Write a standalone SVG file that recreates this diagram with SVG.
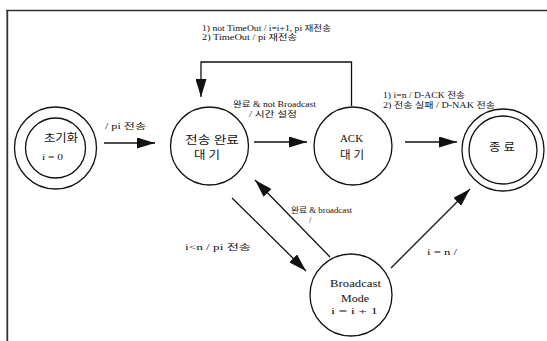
<svg xmlns="http://www.w3.org/2000/svg" width="547" height="341" viewBox="0 0 547 341">
<style>
.n{fill:none;stroke:#111;stroke-width:1.3}
.c{fill:none;stroke:#111;stroke-width:1.3}
.t{font-family:"Liberation Serif","Noto Sans CJK KR",serif;font-size:11px;fill:#111}
.l{font-family:"Liberation Serif","Noto Sans CJK KR",serif;font-size:8.5px;fill:#111}
</style>
<defs>
<marker id="ah" markerUnits="userSpaceOnUse" markerWidth="18" markerHeight="11" refX="18" refY="5.5" orient="auto">
<path d="M0,0 L18,5.5 L0,11 z" fill="#111"/>
</marker>
</defs>
<rect width="547" height="341" fill="#fff"/>
<g id="frame">
<line x1="6" y1="10.5" x2="547" y2="10.5" stroke="#333" stroke-width="1.6"/>
<line x1="7.3" y1="10" x2="7.3" y2="341" stroke="#333" stroke-width="1.8"/>
</g>
<g id="connectors">
<line class="c" x1="104" y1="143" x2="155" y2="143" marker-end="url(#ah)"/>
<line class="c" x1="254" y1="142" x2="307" y2="142" marker-end="url(#ah)"/>
<line class="c" x1="405" y1="142" x2="457" y2="142" marker-end="url(#ah)"/>
<polyline class="c" points="351.5,106 351.5,62 201,62 201,97" marker-end="url(#ah)"/>
<line class="c" x1="232" y1="198" x2="306" y2="271" marker-end="url(#ah)"/>
<line class="c" x1="330" y1="257" x2="255" y2="180" marker-end="url(#ah)"/>
<line class="c" x1="391" y1="268" x2="470" y2="189" marker-end="url(#ah)"/>
<text class="l" x="202" y="30.5" textLength="129" lengthAdjust="spacingAndGlyphs">1) not TimeOut / i=i+1, pi 재전송</text>
<text class="l" x="202" y="39.5" textLength="95" lengthAdjust="spacingAndGlyphs">2) TimeOut / pi 재전송</text>
<text class="l" x="105" y="129" textLength="41" lengthAdjust="spacingAndGlyphs">/ pi 전송</text>
<text class="l" x="233" y="106.5" textLength="83" lengthAdjust="spacingAndGlyphs">완료 &amp; not Broadcast</text>
<text class="l" x="249" y="117" textLength="48" lengthAdjust="spacingAndGlyphs">/ 시간 설정</text>
<text class="l" x="383" y="98" textLength="82" lengthAdjust="spacingAndGlyphs">1) i=n / D-ACK 전송</text>
<text class="l" x="383" y="108" textLength="112" lengthAdjust="spacingAndGlyphs">2) 전송 실패 / D-NAK 전송</text>
<text class="l" x="291" y="213" textLength="61" lengthAdjust="spacingAndGlyphs">완료 &amp; broadcast</text>
<text class="l" x="309" y="223">/</text>
<text class="l" x="185" y="250" textLength="66" lengthAdjust="spacingAndGlyphs">i&lt;n / pi 전송</text>
<text class="l" x="427" y="255" textLength="30" lengthAdjust="spacingAndGlyphs">i = n /</text>
</g>
<g id="init">
<circle class="n" cx="55.5" cy="148" r="41"/>
<circle class="n" cx="55.5" cy="148" r="30"/>
<text class="t" x="44" y="142" textLength="34" lengthAdjust="spacingAndGlyphs">초기화</text>
<text class="t" x="42" y="160" style="font-size:9px" textLength="21" lengthAdjust="spacingAndGlyphs">i = 0</text>
</g>
<g id="wait">
<circle class="n" cx="209.5" cy="146" r="39"/>
<text class="t" x="185" y="144" textLength="54" lengthAdjust="spacingAndGlyphs">전송 완료</text>
<text class="t" x="194" y="159" textLength="26" lengthAdjust="spacingAndGlyphs">대 기</text>
</g>
<g id="ack">
<circle class="n" cx="353" cy="146" r="39"/>
<text class="t" x="340" y="142" textLength="23" lengthAdjust="spacingAndGlyphs">ACK</text>
<text class="t" x="340" y="159" textLength="24" lengthAdjust="spacingAndGlyphs">대 기</text>
</g>
<g id="end">
<circle class="n" cx="503" cy="150" r="41"/>
<circle class="n" cx="503" cy="150" r="34"/>
<text class="t" x="489" y="151" textLength="26" lengthAdjust="spacingAndGlyphs">종 료</text>
</g>
<g id="bcast">
<circle class="n" cx="351" cy="295" r="41"/>
<text class="t" x="330" y="287" textLength="51" lengthAdjust="spacingAndGlyphs">Broadcast</text>
<text class="t" x="341" y="302" textLength="28" lengthAdjust="spacingAndGlyphs">Mode</text>
<text class="t" x="331" y="314" style="font-size:9px" textLength="47" lengthAdjust="spacingAndGlyphs">i = i + 1</text>
</g>
</svg>
